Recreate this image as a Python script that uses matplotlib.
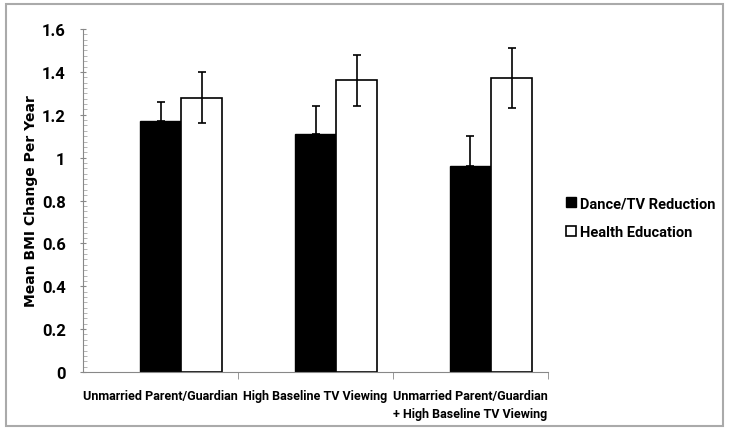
import numpy as np
import matplotlib
matplotlib.use("Agg")
import matplotlib.pyplot as plt
from matplotlib.patches import Rectangle
from matplotlib.ticker import MultipleLocator, FixedLocator

# Chart data
categories = ["Unmarried Parent/Guardian", "High Baseline TV Viewing",
              "Unmarried Parent/Guardian\n+ High Baseline TV Viewing"]
dance_means = [1.17, 1.11, 0.96]
dance_err = [0.09, 0.13, 0.14]
health_means = [1.28, 1.36, 1.37]
health_err = [0.12, 0.12, 0.14]

narrow = "Roboto"

fig = plt.figure(figsize=(7.29, 4.35), dpi=100)
ax = fig.add_axes([0.1139, 0.1425, 0.6378, 0.7885])

x = np.arange(len(categories))
w = 0.265

# black bars hide the lower half of their error bars
ebar = dict(ecolor="black", elinewidth=1.2, capsize=3, capthick=1.2)
ax.bar(x, dance_means, w, color="black", edgecolor="black", linewidth=1,
       yerr=[[0] * 3, dance_err], error_kw=ebar, label="Dance/TV Reduction", zorder=2)
ax.bar(x + w, health_means, w, color="white", edgecolor="black", linewidth=1.2,
       yerr=health_err, error_kw=ebar, label="Health Education", zorder=2)

ax.set_xlim(-0.5, 2.5)
ax.set_ylim(0, 1.6)
ax.spines["top"].set_visible(False)
ax.spines["right"].set_visible(False)
ax.spines["left"].set_color("#888888")
ax.spines["bottom"].set_color("#888888")

# category labels without ticks, separator ticks between groups
ax.set_xticks(x)
ax.set_xticklabels(categories, fontfamily=narrow, fontweight="bold", fontsize=9, linespacing=1.5)
ax.tick_params(axis="x", length=0, pad=12)
ax.xaxis.set_minor_locator(FixedLocator([0.5, 1.5, 2.5]))
ax.tick_params(axis="x", which="minor", length=5, color="#888888")

ax.yaxis.set_minor_locator(MultipleLocator(0.025))
ax.set_yticks(np.arange(0, 1.61, 0.2))
ax.set_yticklabels(["0", "0.2", "0.4", "0.6", "0.8", "1", "1.2", "1.4", "1.6"],
                   fontfamily=narrow, fontweight="bold", fontsize=12)
ax.tick_params(axis="y", which="major", length=5, color="#888888", direction="inout", pad=10)
ax.tick_params(axis="y", which="minor", length=3, color="#aaaaaa", direction="in")

ax.set_ylabel("Mean BMI Change Per Year", fontfamily="DejaVu Sans", fontweight="bold", fontsize=10, labelpad=3)

leg = ax.legend(loc="center left", bbox_to_anchor=(1.01, 0.45), frameon=False,
                prop={"family": narrow, "weight": "bold", "size": 10.5},
                handlelength=0.7, handleheight=0.7, handletextpad=0.3, labelspacing=1.0)

# grey frame around the whole figure
fig.patches.append(Rectangle((0.008, 0.018), 0.984, 0.97, transform=fig.transFigure,
                             fill=False, edgecolor="#aaaaaa", linewidth=1.5))

fig.savefig("out.png", dpi=100)
